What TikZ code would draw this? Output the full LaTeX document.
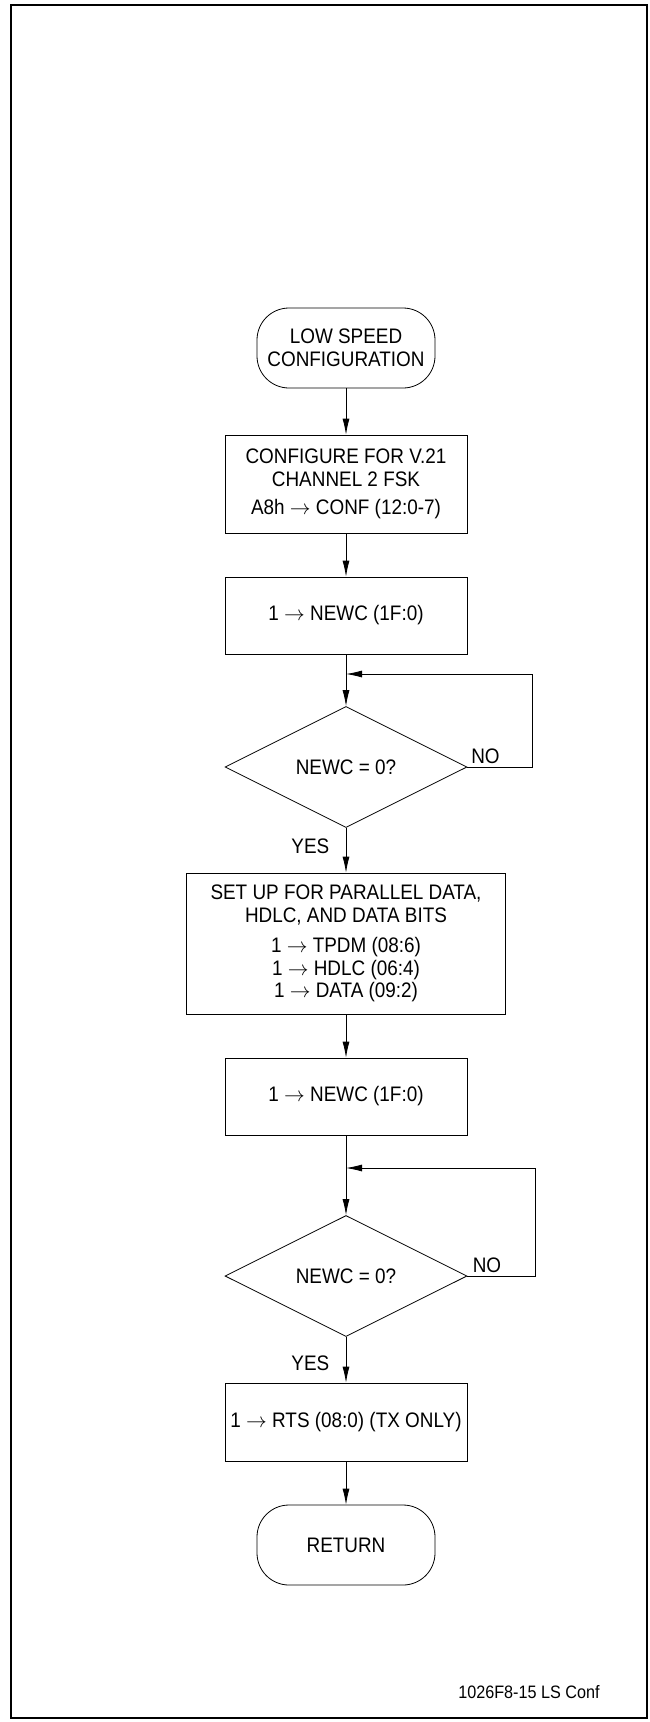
\documentclass[tikz,border=0pt]{standalone}
\usepackage{fontspec}
\setmainfont{Liberation Sans}[FakeStretch=0.9]
\usetikzlibrary{shapes.geometric,arrows.meta}
\begin{document}
\begin{tikzpicture}[x=1pt, y=-1pt, font=\fontsize{21}{22.5}\selectfont,
  box/.style={draw, line width=0.8pt, minimum width=242pt, align=center, inner sep=0pt},
  term/.style={draw, line width=0.8pt, rounded corners=32pt, minimum width=178pt, minimum height=80pt, align=center},
  test/.style={draw, diamond, line width=0.8pt, minimum width=242pt, minimum height=121pt, inner sep=0pt},
  flow/.style={-{Latex[length=16pt,width=7pt]}, line width=0.8pt}]
  \useasboundingbox (0,0) rectangle (649,1722);
  \draw[line width=2.5pt] (11,5) rectangle (647,1718);

  \node[term] (start) at (346,348) {LOW SPEED\\CONFIGURATION};
  \node[box, minimum height=98pt] (conf) at (346,484) {CONFIGURE FOR V.21\\CHANNEL 2 FSK\\[6pt]A8h $\rightarrow$ CONF (12:0-7)};
  \node[box, minimum height=77pt] (newc1) at (346,615.5) {1 $\rightarrow$ NEWC (1F:0)};
  \node[test] (test1) at (346,767) {NEWC = 0?};
  \node[box, minimum width=319pt, minimum height=141pt] (setup) at (346,943.5) {SET UP FOR PARALLEL DATA,\\HDLC, AND DATA BITS\\[8pt]1 $\rightarrow$ TPDM (08:6)\\1 $\rightarrow$ HDLC (06:4)\\1 $\rightarrow$ DATA (09:2)};
  \node[box, minimum height=77pt] (newc2) at (346,1096.5) {1 $\rightarrow$ NEWC (1F:0)};
  \node[test] (test2) at (346,1276) {NEWC = 0?};
  \node[box, minimum height=78pt] (rts) at (346,1422) {1 $\rightarrow$ RTS (08:0) (TX ONLY)};
  \node[term] (ret) at (346,1545) {RETURN};
  \node[font=\fontsize{18}{20}\selectfont] (figid) at (529,1692) {1026F8-15 LS Conf};

  \coordinate (j1) at (346,674);
  \coordinate (r1) at (532,767);
  \coordinate (j2) at (346,1168);
  \coordinate (r2) at (535,1276);

  \draw[flow] (start) -- (conf);
  \draw[flow] (conf) -- (newc1);
  \draw[flow] (newc1) -- (test1);
  \draw[flow] (test1.east) -- node[above, pos=0.28]{NO} (r1) |- (j1);
  \draw[flow] (test1.south) -- node[left=13pt, pos=0.42]{YES} (setup.north);
  \draw[flow] (setup) -- (newc2);
  \draw[flow] (newc2) -- (test2);
  \draw[flow] (test2.east) -- node[above, pos=0.29]{NO} (r2) |- (j2);
  \draw[flow] (test2.south) -- node[left=13pt, pos=0.57]{YES} (rts.north);
  \draw[flow] (rts) -- (ret);
\end{tikzpicture}
\end{document}
